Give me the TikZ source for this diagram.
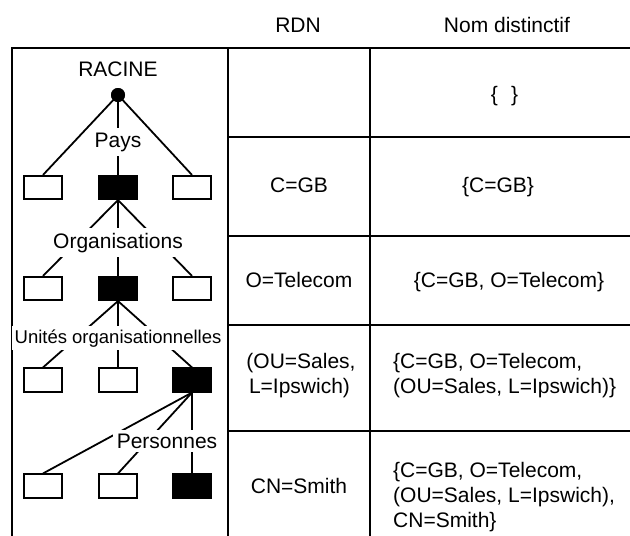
\documentclass[tikz,border=0pt]{standalone}
\usepackage{fontspec}
\setmainfont{Liberation Sans}
\begin{document}
\begin{tikzpicture}[x=1pt,y=-1pt,
  grid/.style={line width=2pt,line cap=rect},
  link/.style={line width=1.8pt},
  wbox/.style={draw,line width=1.6pt,fill=white,minimum width=38.5pt,minimum height=23.5pt,inner sep=0pt},
  bbox/.style={wbox,fill=black},
  dot/.style={circle,fill=black,minimum size=14pt,inner sep=0pt},
  lbl/.style={fill=white,inner sep=5pt,anchor=base,font=\fontsize{21}{25}\selectfont},
  txt/.style={inner sep=0pt,anchor=base,font=\fontsize{21}{25}\selectfont}]
\useasboundingbox (0,0) rectangle (630,536);
% table
\draw[grid] (630,48) -- (12,48) -- (12,540);
\draw[grid] (228,48) -- (228,540);
\draw[grid] (370,48) -- (370,540);
\foreach \yy in {137,236,325,431}{\draw[grid] (228,\yy) -- (634,\yy);}
% headers
\node[txt] (hrdn) at (298,32) {RDN};
\node[txt] (hnom) at (507,32) {Nom distinctif};
% rows
\node[txt] (n1) at (504.5,101) {\{\hspace{13pt}\}};
\node[txt] (r2) at (299,192) {C=GB};
\node[txt] (n2) at (498,192) {\{C=GB\}};
\node[txt] (r3) at (299,287) {O=Telecom};
\node[txt] (n3) at (509,287) {\{C=GB, O=Telecom\}};
\node[txt] (r4) at (301,368) {(OU=Sales,};
\node[txt] (r4b) at (299.5,393) {L=Ipswich)};
\node[txt,anchor=base west] (n4) at (393,368) {\{C=GB, O=Telecom,};
\node[txt,anchor=base west] (n4b) at (393,393) {(OU=Sales, L=Ipswich)\}};
\node[txt] (r5) at (299,493) {CN=Smith};
\node[txt,anchor=base west] (n5) at (393,477) {\{C=GB, O=Telecom,};
\node[txt,anchor=base west] (n5b) at (393,502) {(OU=Sales, L=Ipswich),};
\node[txt,anchor=base west] (n5c) at (393,527) {CN=Smith\}};
% tree
\node[txt] (racine) at (118,76) {RACINE};
\node[dot] (root) at (118,95) {};
\node[wbox] (a1) at (43,187.5) {};
\node[bbox] (a2) at (118,187.5) {};
\node[wbox] (a3) at (192,187.5) {};
\node[wbox] (b1) at (43,288.5) {};
\node[bbox] (b2) at (118,288.5) {};
\node[wbox] (b3) at (192,288.5) {};
\node[wbox] (c1) at (43,380) {};
\node[wbox] (c2) at (118,380) {};
\node[bbox] (c3) at (192,380) {};
\node[wbox] (d1) at (43,486) {};
\node[wbox] (d2) at (118,486) {};
\node[bbox] (d3) at (192,486) {};
\foreach \t in {a1,a2,a3}{\draw[link] (root.center) -- (\t.north);}
\foreach \t in {b1,b2,b3}{\draw[link] (a2.south) -- (\t.north);}
\foreach \t in {c1,c2,c3}{\draw[link] (b2.south) -- (\t.north);}
\foreach \t in {d1,d2,d3}{\draw[link] (c3.south) -- (\t.north);}
\node[dot] at (root) {};
\node[lbl] (pays) at (118,147) {Pays};
\node[lbl] (orgs) at (118,248) {Organisations};
\node[lbl,inner sep=3pt,font=\fontsize{18.5}{22}\selectfont] (units) at (118,343) {Unités organisationnelles};
\node[lbl,inner sep=4pt] (pers) at (167,448) {Personnes};
\end{tikzpicture}
\end{document}
